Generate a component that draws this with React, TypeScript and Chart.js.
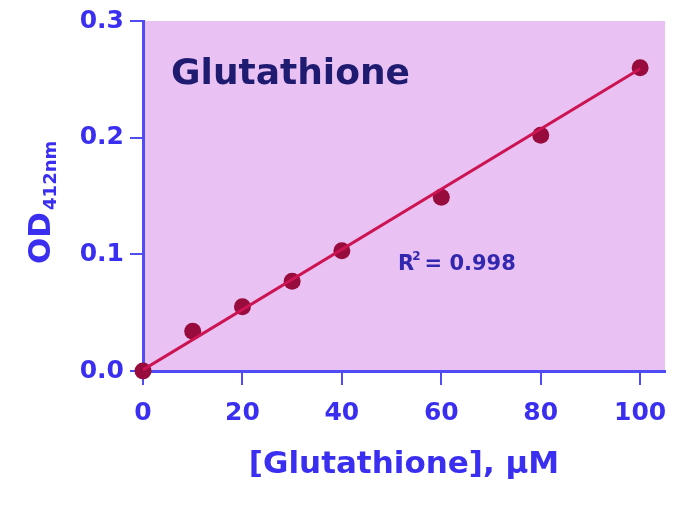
import React, { useEffect, useRef } from "react";
import { Chart, registerables, type Plugin } from "chart.js";

Chart.register(...registerables);

// concentration (µM) and measured OD at 412 nm
const concentrations = [0, 10, 20, 30, 40, 60, 80, 100];
const odValues = [0.0, 0.034, 0.055, 0.077, 0.103, 0.149, 0.202, 0.26];

// linear fit endpoints
const fitX = [0, 100];
const fitY = [0.001, 0.259];

const xTicks = [0, 20, 40, 60, 80, 100];
const yTicks = [0, 0.1, 0.2, 0.3];

const chartTitle = "Glutathione";
const xTitle = "[Glutathione], µM";
const rSquared = "0.998";

const AXIS_BLUE = "#4f4cf5";
const LABEL_BLUE = "#3a2ff0";
const FONT = "'DejaVu Sans', 'Liberation Sans', sans-serif";

const backgroundPlugin: Plugin<"scatter"> = {
  id: "plotBackground",
  beforeDraw(chart) {
    const { ctx, chartArea } = chart;
    ctx.save();
    ctx.fillStyle = "#e9c1f3";
    ctx.fillRect(
      chartArea.left,
      chartArea.top,
      chartArea.right - chartArea.left,
      chartArea.bottom - chartArea.top,
    );
    ctx.restore();
  },
};

const textPlugin: Plugin<"scatter"> = {
  id: "textLabels",
  afterDraw(chart) {
    const { ctx, chartArea } = chart;
    ctx.save();
    ctx.textBaseline = "alphabetic";

    // title inside the plot
    ctx.fillStyle = "#1f1b70";
    ctx.font = `bold 36px ${FONT}`;
    ctx.textAlign = "left";
    ctx.fillText(chartTitle, chartArea.left + 28, chartArea.top + 63);

    // R squared
    ctx.fillStyle = "#3228b0";
    ctx.font = `bold 21px ${FONT}`;
    const rx = chartArea.left + 255;
    const ry = chartArea.top + 249;
    ctx.fillText("R", rx, ry);
    const rw = ctx.measureText("R").width;
    ctx.font = `bold 12px ${FONT}`;
    ctx.fillText("2", rx + rw - 2, ry - 10);
    ctx.font = `bold 21px ${FONT}`;
    ctx.fillText(" = " + rSquared, rx + rw + 3, ry);

    // x axis title
    ctx.fillStyle = LABEL_BLUE;
    ctx.font = `bold 31px ${FONT}`;
    ctx.textAlign = "center";
    ctx.fillText(xTitle, (chartArea.left + chartArea.right) / 2, 473);

    // y axis title with subscript
    ctx.translate(50, 264);
    ctx.rotate(-Math.PI / 2);
    ctx.textAlign = "left";
    ctx.font = `bold 31px ${FONT}`;
    ctx.fillText("OD", 0, 0);
    const odw = ctx.measureText("OD").width;
    ctx.font = `bold 18px ${FONT}`;
    ctx.fillText("412nm", odw + 2, 6);

    ctx.restore();
  },
};

const App: React.FC = () => {
  const chartRef = useRef<HTMLCanvasElement>(null);
  const chartInstance = useRef<Chart<"scatter"> | null>(null);

  useEffect(() => {
    document.body.style.margin = "0";
    if (!chartRef.current) return;
    const ctx = chartRef.current.getContext("2d");
    if (!ctx) return;

    if (chartInstance.current) {
      chartInstance.current.destroy();
    }

    chartInstance.current = new Chart(ctx, {
      type: "scatter",
      data: {
        datasets: [
          {
            label: "Fit",
            data: fitX.map((x, i) => ({ x, y: fitY[i] })),
            showLine: true,
            borderColor: "#cc1452",
            borderWidth: 3,
            pointRadius: 0,
          },
          {
            label: "Glutathione",
            data: concentrations.map((x, i) => ({ x, y: odValues[i] })),
            showLine: false,
            pointRadius: 8.5,
            pointBackgroundColor: "#970b3d",
            pointBorderWidth: 0,
            clip: false,
          },
        ],
      },
      options: {
        responsive: false,
        animation: false,
        layout: { padding: { top: 21, right: 18, left: 0, bottom: 0 } },
        plugins: {
          legend: { display: false },
          tooltip: { enabled: false },
        },
        scales: {
          x: {
            type: "linear",
            min: 0,
            max: 105,
            afterFit: (scale) => {
              scale.height = 142;
            },
            afterBuildTicks: (scale) => {
              scale.ticks = xTicks.map((value) => ({ value }));
            },
            grid: {
              drawOnChartArea: false,
              drawTicks: true,
              tickLength: 14,
              color: AXIS_BLUE,
              lineWidth: 2,
            },
            border: { color: AXIS_BLUE, width: 3 },
            ticks: {
              color: LABEL_BLUE,
              padding: 13,
              maxRotation: 0,
              font: { family: FONT, size: 25, weight: "bold" },
            },
          },
          y: {
            type: "linear",
            min: 0,
            max: 0.3,
            afterFit: (scale) => {
              scale.width = 143;
            },
            afterBuildTicks: (scale) => {
              scale.ticks = yTicks.map((value) => ({ value }));
            },
            grid: {
              drawOnChartArea: false,
              drawTicks: true,
              tickLength: 13,
              color: AXIS_BLUE,
              lineWidth: 2,
            },
            border: { color: AXIS_BLUE, width: 3 },
            ticks: {
              color: LABEL_BLUE,
              padding: 6,
              callback: (v) => Number(v).toFixed(1),
              font: { family: FONT, size: 25, weight: "bold" },
            },
          },
        },
      },
      plugins: [backgroundPlugin, textPlugin],
    });

    return () => {
      if (chartInstance.current) {
        chartInstance.current.destroy();
        chartInstance.current = null;
      }
    };
  }, []);

  return (
    <div style={{ width: 683, height: 513, background: "#ffffff" }}>
      <canvas ref={chartRef} width={683} height={513} />
    </div>
  );
};

export default App;
